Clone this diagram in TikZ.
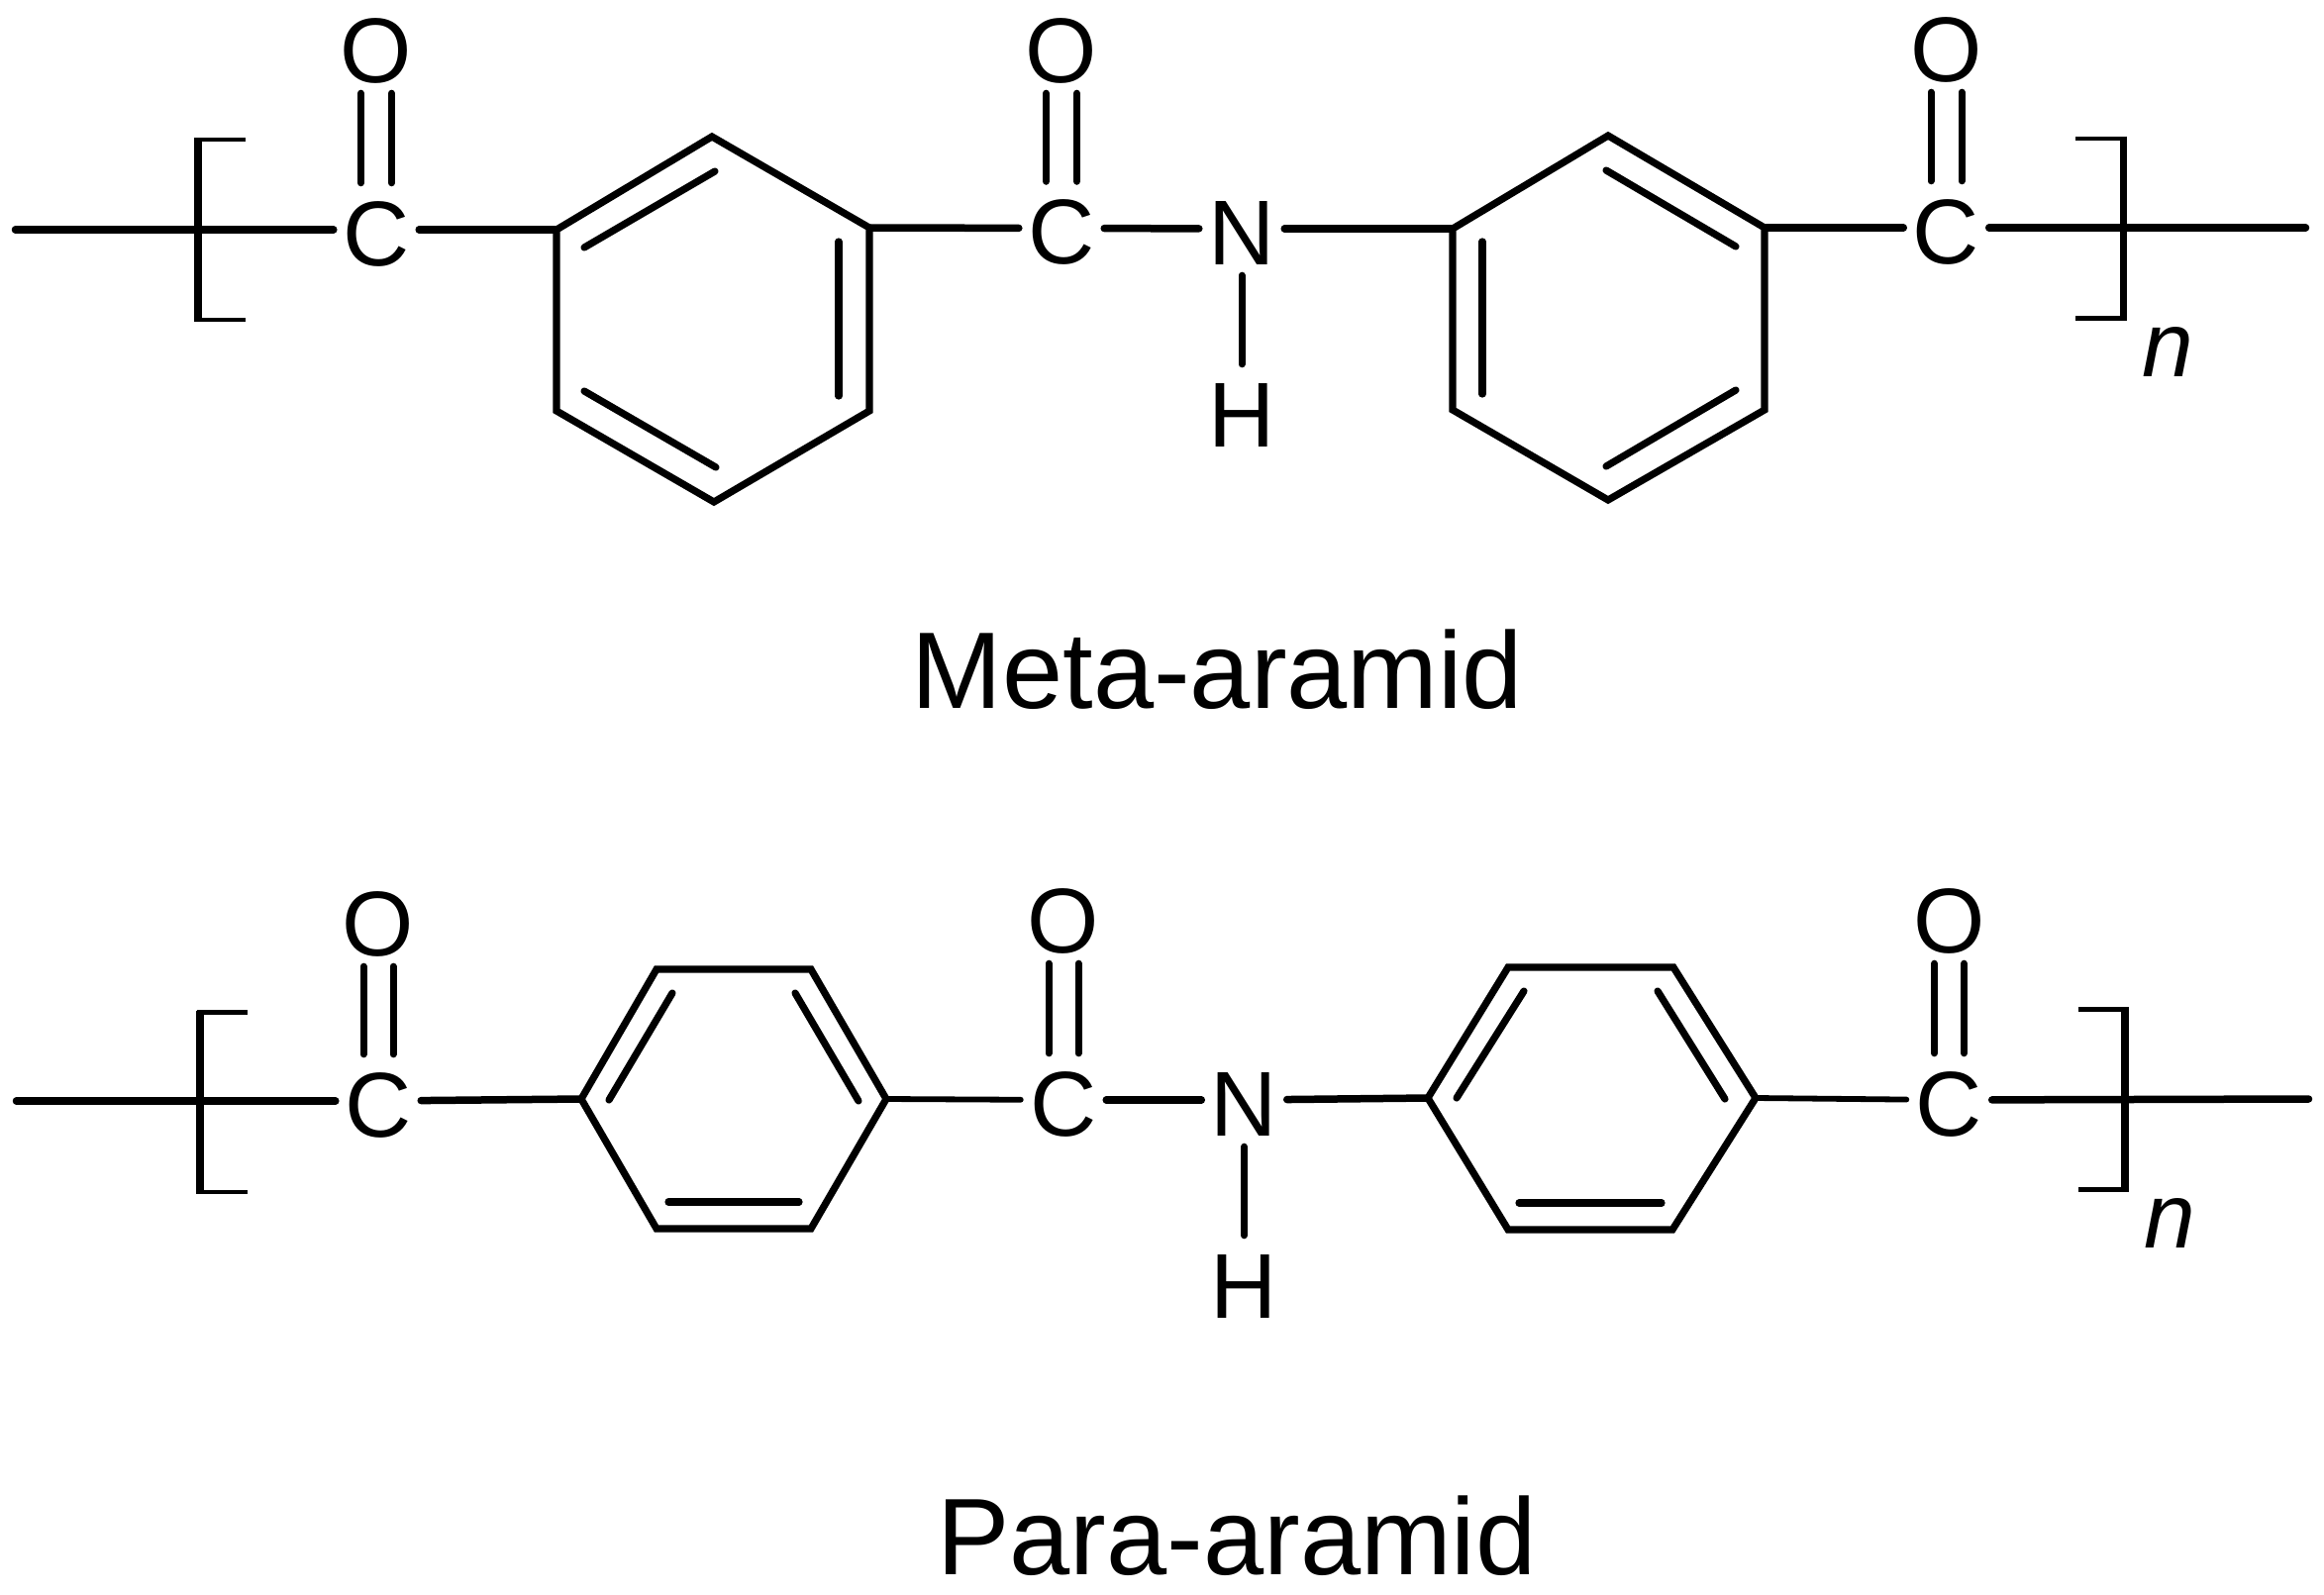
\documentclass[tikz,border=0pt]{standalone}
\usepackage{fontspec}
\setmainfont{Liberation Sans}
\tikzset{
  atom/.style={rectangle,inner sep=0pt,minimum width=86pt,minimum height=94pt,text height=83pt,text depth=11pt,font=\fontsize{93}{93}\selectfont},
  caption/.style={anchor=base,inner sep=0pt,font=\fontsize{110}{110}\selectfont},
  repeatn/.style={anchor=base west,inner sep=0pt,font=\fontsize{93}{93}\selectfont\itshape},
  bond/.style={line width=7.5pt,line cap=round,black},
  thinbond/.style={line width=5.8pt,line cap=round,black},
  dblbond/.style={line width=7pt,line cap=round,black},
  ringline/.style={line width=7.2pt,line join=miter,black},
  innerline/.style={line width=7.2pt,line cap=round,black},
  bracketv/.style={line width=7.3pt,black},
  bracketh/.style={line width=4.3pt,black}
}
\begin{document}
\begin{tikzpicture}[x=1pt,y=-1pt]
\useasboundingbox (0,0) rectangle (2347,1611);
% ---------- Meta-aramid ----------
\node[atom] (C1) at (380,232) {C};
\node[atom] (O1) at (380,47) {O};
\node[atom] (C2) at (1072,230.5) {C};
\node[atom] (O2) at (1072,47) {O};
\node[atom] (N1) at (1254,231) {N};
\node[atom] (H1) at (1254,415) {H};
\node[atom] (C3) at (1965.5,230) {C};
\node[atom] (O3) at (1965.5,46) {O};
\node[caption] (T1) at (1229.5,715) {Meta-aramid};
\node[repeatn] (n1) at (2163,380) {n};
\coordinate (L1) at (15.5,232);
\coordinate (E1) at (2328.5,230);
\coordinate (Aa) at (562,232);
\coordinate (Ab) at (719,138);
\coordinate (Ac) at (878,230);
\coordinate (Ad) at (878,415);
\coordinate (Ae) at (721,507);
\coordinate (Af) at (562,415);
\coordinate (Ba) at (1467,231);
\coordinate (Bb) at (1624,137);
\coordinate (Bc) at (1782,230);
\coordinate (Bd) at (1782,414);
\coordinate (Be) at (1624,505);
\coordinate (Bf) at (1467,414);
\draw[ringline] (Aa) -- (Ab) -- (Ac) -- (Ad) -- (Ae) -- (Af) -- cycle;
\draw[ringline] (Ba) -- (Bb) -- (Bc) -- (Bd) -- (Be) -- (Bf) -- cycle;
\coordinate (Ai1) at (590,250); \coordinate (Ai2) at (722,173);
\coordinate (Ai3) at (847,244); \coordinate (Ai4) at (847,400);
\coordinate (Ai5) at (590,395); \coordinate (Ai6) at (723,472);
\coordinate (Bi1) at (1622,172); \coordinate (Bi2) at (1753,249);
\coordinate (Bi3) at (1497,244); \coordinate (Bi4) at (1497,398);
\coordinate (Bi5) at (1622,471); \coordinate (Bi6) at (1753,394);
\draw[innerline] (Ai1) -- (Ai2);
\draw[innerline] (Ai3) -- (Ai4);
\draw[innerline] (Ai5) -- (Ai6);
\draw[innerline] (Bi1) -- (Bi2);
\draw[innerline] (Bi3) -- (Bi4);
\draw[innerline] (Bi5) -- (Bi6);
\draw[bond] (L1) -- (C1);
\draw[bond] (C1) -- (Aa);
\draw[bond] (Ac) -- (C2);
\draw[bond] (C2) -- (N1);
\draw[bond] (N1) -- (Ba);
\draw[bond] (Bc) -- (C3);
\draw[bond] (C3) -- (E1);
\draw[dblbond] (N1) -- (H1);
\foreach \a/\b in {O1/C1,O2/C2,O3/C3}{
  \draw[dblbond] ([xshift=-15.5pt]\a.south) -- ([xshift=-15.5pt]\b.north);
  \draw[dblbond] ([xshift=15.5pt]\a.south) -- ([xshift=15.5pt]\b.north);
}
\coordinate (Pa) at (200,139); \coordinate (Pb) at (200,325);
\draw[bracketv] (Pa) -- (Pb);
\draw[bracketh] (196.5,141) -- (248,141);
\draw[bracketh] (196.5,323) -- (248,323);
\coordinate (Qa) at (2144.3,137.7); \coordinate (Qb) at (2144.3,323.5);
\draw[bracketv] (Qa) -- (Qb);
\draw[bracketh] (2096,139.7) -- (2147.8,139.7);
\draw[bracketh] (2096,321.5) -- (2147.8,321.5);
% ---------- Para-aramid ----------
\node[atom] (C4) at (382,1112) {C};
\node[atom] (O4) at (382,929) {O};
\node[atom] (C5) at (1074,1111) {C};
\node[atom] (O5) at (1074,926) {O};
\node[atom] (N2) at (1256.5,1111) {N};
\node[atom] (H2) at (1256.5,1295) {H};
\node[atom] (C6) at (1968.5,1111) {C};
\node[atom] (O6) at (1968.5,926) {O};
\node[caption] (T2) at (1249,1590.7) {Para-aramid};
\node[repeatn] (n2) at (2165,1260) {n};
\coordinate (L2) at (16.5,1112);
\coordinate (E2) at (2331.5,1110);
\coordinate (Ca) at (587,1110);
\coordinate (Cb) at (663,979);
\coordinate (Cc) at (819,979);
\coordinate (Cd) at (895,1110);
\coordinate (Ce) at (819,1241);
\coordinate (Cf) at (663,1241);
\coordinate (Da) at (1442,1109);
\coordinate (Db) at (1523,977);
\coordinate (Dc) at (1690,977);
\coordinate (Dd) at (1773,1109);
\coordinate (De) at (1689,1242);
\coordinate (Df) at (1523,1242);
\draw[ringline] (Ca) -- (Cb) -- (Cc) -- (Cd) -- (Ce) -- (Cf) -- cycle;
\draw[ringline] (Da) -- (Db) -- (Dc) -- (Dd) -- (De) -- (Df) -- cycle;
\coordinate (Ci1) at (615,1111); \coordinate (Ci2) at (679,1003);
\coordinate (Ci3) at (803,1003); \coordinate (Ci4) at (867,1112);
\coordinate (Ci5) at (675,1214); \coordinate (Ci6) at (807,1214);
\coordinate (Di1) at (1471,1109); \coordinate (Di2) at (1539,1001);
\coordinate (Di3) at (1674,1001); \coordinate (Di4) at (1742,1110);
\coordinate (Di5) at (1534,1215); \coordinate (Di6) at (1678,1215);
\draw[innerline] (Ci1) -- (Ci2);
\draw[innerline] (Ci3) -- (Ci4);
\draw[innerline] (Ci5) -- (Ci6);
\draw[innerline] (Di1) -- (Di2);
\draw[innerline] (Di3) -- (Di4);
\draw[innerline] (Di5) -- (Di6);
\draw[bond] (L2) -- (C4);
\draw[bond] (C4) -- (Ca);
\draw[thinbond] (Cd) -- (C5);
\draw[bond] (C5) -- (N2);
\draw[bond] (N2) -- (Da);
\draw[thinbond] (Dd) -- (C6);
\draw[bond] (C6) -- (E2);
\draw[dblbond] (N2) -- (H2);
\foreach \a/\b in {O4/C4,O5/C5,O6/C6}{
  \draw[dblbond] ([xshift=-15pt]\a.south) -- ([xshift=-15pt]\b.north);
  \draw[dblbond] ([xshift=15pt]\a.south) -- ([xshift=15pt]\b.north);
}
\coordinate (Ra) at (202,1020.5); \coordinate (Rb) at (202,1206);
\draw[bracketv] (Ra) -- (Rb);
\draw[bracketh] (198.5,1022.5) -- (250,1022.5);
\draw[bracketh] (198.5,1204) -- (250,1204);
\coordinate (Sa) at (2146,1017.5); \coordinate (Sb) at (2146,1203.5);
\draw[bracketv] (Sa) -- (Sb);
\draw[bracketh] (2099,1019.5) -- (2149.5,1019.5);
\draw[bracketh] (2099,1201.5) -- (2149.5,1201.5);
\end{tikzpicture}
\end{document}
